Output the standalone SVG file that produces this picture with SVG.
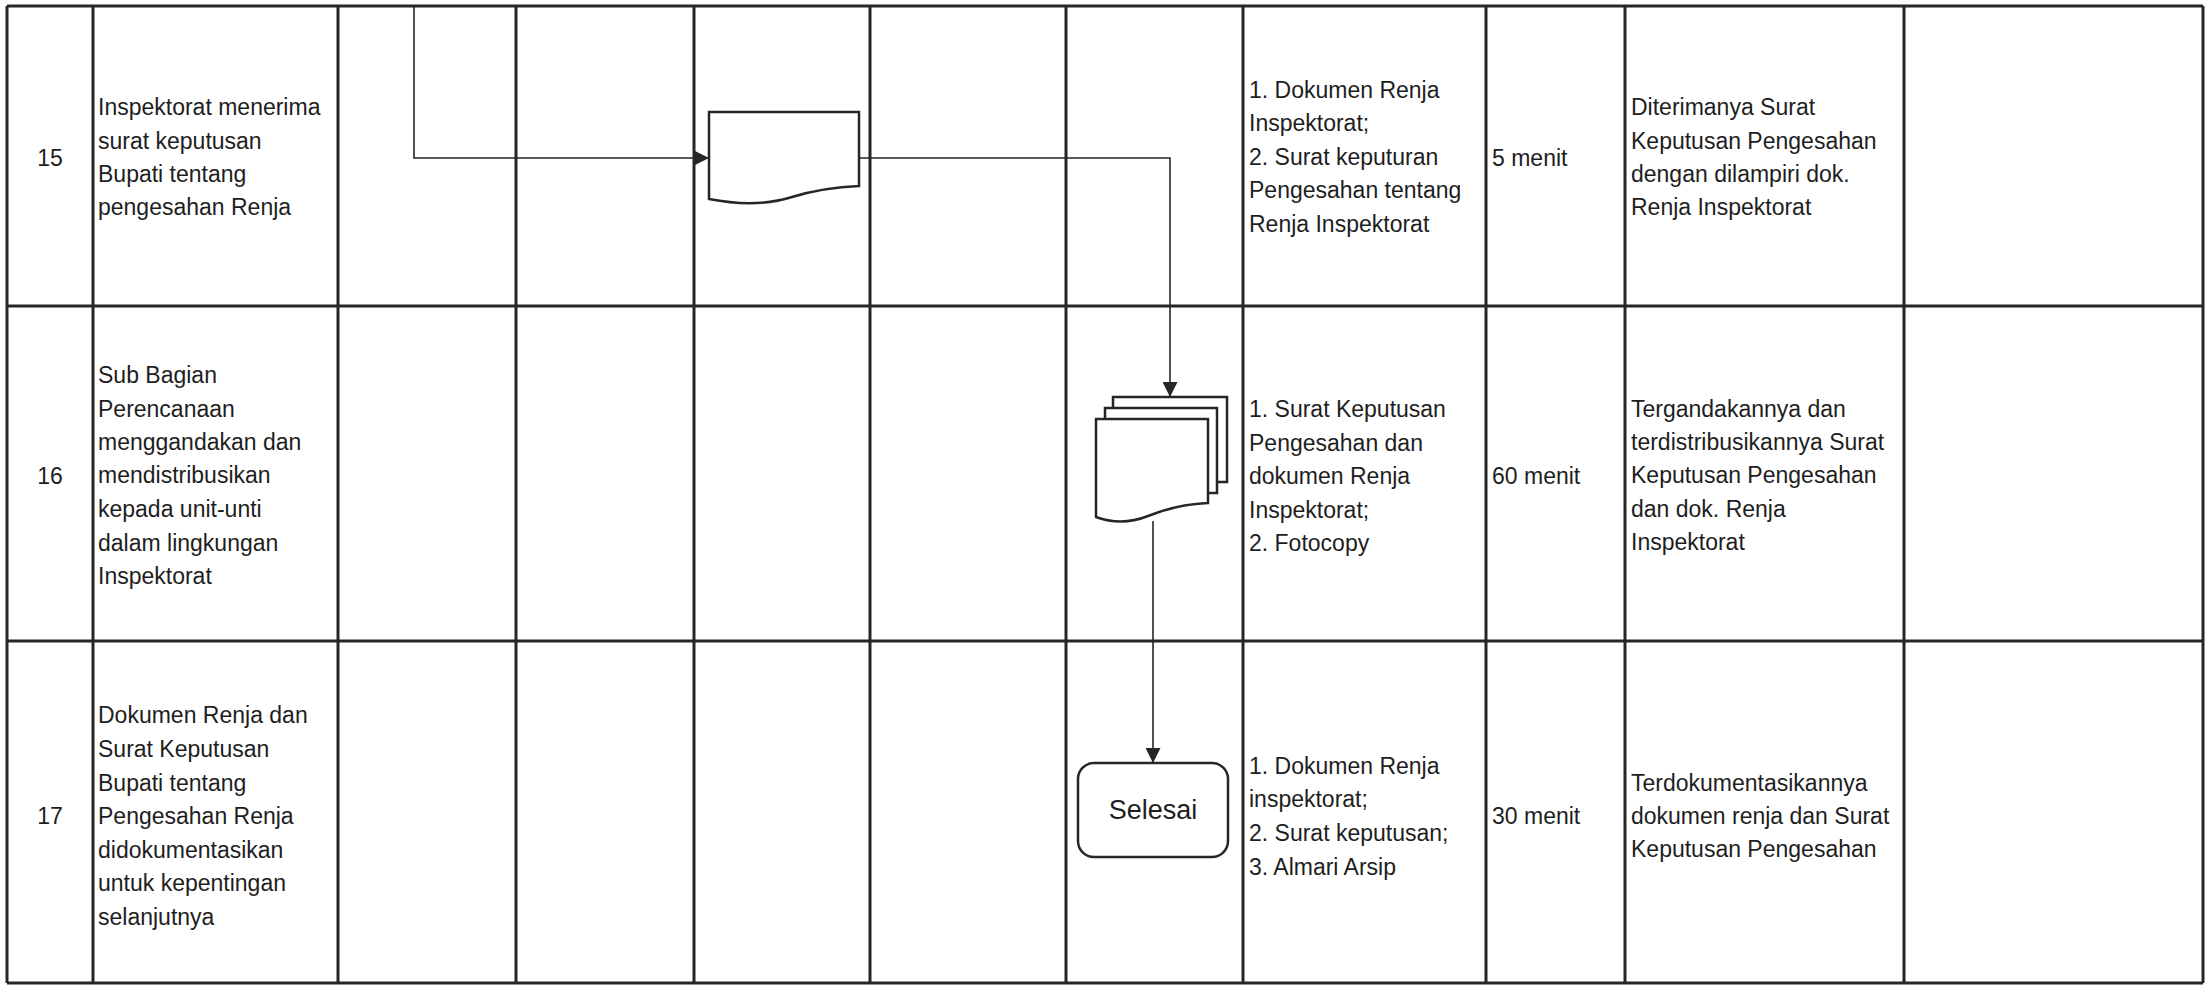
<svg xmlns="http://www.w3.org/2000/svg" width="2207" height="987" viewBox="0 0 2207 987">
<style>
.grid{stroke:#262626;stroke-width:3;fill:none}
.shape{stroke:#262626;stroke-width:2.5;fill:#fff}
.conn{stroke:#262626;stroke-width:1.6;fill:none}
text{font-family:"Liberation Sans",Arial,sans-serif;font-size:23px;fill:#1e1e1e}
.num{text-anchor:middle}
.big{font-size:27px;text-anchor:middle}
</style>
<defs>
<marker id="arr2" viewBox="0 0 10 10" refX="10" refY="5" markerWidth="15" markerHeight="15" markerUnits="userSpaceOnUse" orient="auto">
<path d="M0,0 L10,5 L0,10 Z" fill="#262626"/>
</marker>
</defs>
<rect width="2207" height="987" fill="#fff"/>
<g id="grid" class="grid">
<line x1="7" y1="6" x2="2203" y2="6"/>
<line x1="7" y1="306" x2="2203" y2="306"/>
<line x1="7" y1="641" x2="2203" y2="641"/>
<line x1="7" y1="983" x2="2203" y2="983"/>
<line x1="7" y1="6" x2="7" y2="983"/>
<line x1="93" y1="6" x2="93" y2="983"/>
<line x1="338" y1="6" x2="338" y2="983"/>
<line x1="516" y1="6" x2="516" y2="983"/>
<line x1="694" y1="6" x2="694" y2="983"/>
<line x1="870" y1="6" x2="870" y2="983"/>
<line x1="1066" y1="6" x2="1066" y2="983"/>
<line x1="1243" y1="6" x2="1243" y2="983"/>
<line x1="1486" y1="6" x2="1486" y2="983"/>
<line x1="1625" y1="6" x2="1625" y2="983"/>
<line x1="1904" y1="6" x2="1904" y2="983"/>
<line x1="2203" y1="6" x2="2203" y2="983"/>
</g>
<g id="connectors">
<polyline class="conn" points="414,6 414,158 709,158" marker-end="url(#arr2)"/>
<polyline class="conn" points="859,158 1170,158 1170,397" marker-end="url(#arr2)"/>
<line class="conn" x1="1153" y1="521" x2="1153" y2="763" marker-end="url(#arr2)"/>
</g>
<g id="row15">
<text class="num" x="50" y="166">15</text>
<text x="98" y="115">Inspektorat menerima</text>
<text x="98" y="149">surat keputusan</text>
<text x="98" y="182">Bupati tentang</text>
<text x="98" y="215">pengesahan Renja</text>
<text x="1249" y="98">1. Dokumen Renja</text>
<text x="1249" y="131">Inspektorat;</text>
<text x="1249" y="165">2. Surat keputuran</text>
<text x="1249" y="198">Pengesahan tentang</text>
<text x="1249" y="232">Renja Inspektorat</text>
<text x="1492" y="166">5 menit</text>
<text x="1631" y="115">Diterimanya Surat</text>
<text x="1631" y="149">Keputusan Pengesahan</text>
<text x="1631" y="182">dengan dilampiri dok.</text>
<text x="1631" y="215">Renja Inspektorat</text>
</g>
<g id="doc15">
<path class="shape" d="M709,112 H859 V186 C835,187 815,190 792,197 C770,204 745,206 709,199 Z"/>
</g>
<g id="row16">
<text class="num" x="50" y="484">16</text>
<text x="98" y="383">Sub Bagian</text>
<text x="98" y="417">Perencanaan</text>
<text x="98" y="450">menggandakan dan</text>
<text x="98" y="483">mendistribusikan</text>
<text x="98" y="517">kepada unit-unti</text>
<text x="98" y="551">dalam lingkungan</text>
<text x="98" y="584">Inspektorat</text>
<text x="1249" y="417">1. Surat Keputusan</text>
<text x="1249" y="451">Pengesahan dan</text>
<text x="1249" y="484">dokumen Renja</text>
<text x="1249" y="518">Inspektorat;</text>
<text x="1249" y="551">2. Fotocopy</text>
<text x="1492" y="484">60 menit</text>
<text x="1631" y="417">Tergandakannya dan</text>
<text x="1631" y="450">terdistribusikannya Surat</text>
<text x="1631" y="483">Keputusan Pengesahan</text>
<text x="1631" y="517">dan dok. Renja</text>
<text x="1631" y="550">Inspektorat</text>
</g>
<g id="docstack16">
<rect class="shape" x="1113" y="397" width="114" height="85"/>
<rect class="shape" x="1105" y="408" width="112" height="85"/>
<path class="shape" d="M1096,419 H1208 V503 C1185,504 1168,508 1148,516 C1128,524 1112,523 1096,517 Z"/>
</g>
<g id="row17">
<text class="num" x="50" y="824">17</text>
<text x="98" y="723">Dokumen Renja dan</text>
<text x="98" y="757">Surat Keputusan</text>
<text x="98" y="791">Bupati tentang</text>
<text x="98" y="824">Pengesahan Renja</text>
<text x="98" y="858">didokumentasikan</text>
<text x="98" y="891">untuk kepentingan</text>
<text x="98" y="925">selanjutnya</text>
<text x="1249" y="774">1. Dokumen Renja</text>
<text x="1249" y="807">inspektorat;</text>
<text x="1249" y="841">2. Surat keputusan;</text>
<text x="1249" y="875">3. Almari Arsip</text>
<text x="1492" y="824">30 menit</text>
<text x="1631" y="791">Terdokumentasikannya</text>
<text x="1631" y="824">dokumen renja dan Surat</text>
<text x="1631" y="857">Keputusan Pengesahan</text>
</g>
<g id="selesai">
<rect class="shape" x="1078" y="763" width="150" height="94" rx="16"/>
<text class="big" x="1153" y="819">Selesai</text>
</g>
</svg>
